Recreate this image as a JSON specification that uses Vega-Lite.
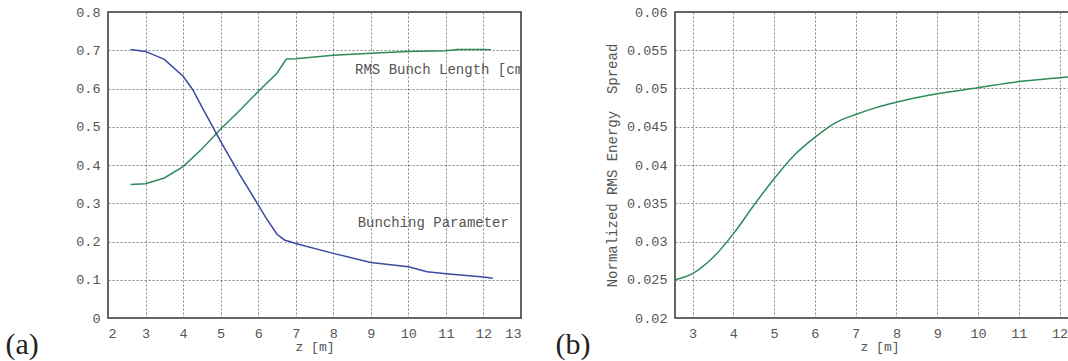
{
  "$schema": "https://vega.github.io/schema/vega-lite/v6.json",
  "background": "white",
  "padding": {"left": 4, "top": 4, "right": 0, "bottom": 0},
  "spacing": 32,
  "config": {
    "view": {"stroke": "#333", "strokeWidth": 1.5},
    "axis": {
      "labelFont": "Liberation Mono", "labelFontSize": 13.5, "labelColor": "#555",
      "titleFont": "Liberation Mono", "titleFontSize": 13, "titleColor": "#555", "titleFontWeight": "normal",
      "domain": false, "ticks": false, "labelPadding": 8, "titlePadding": 1, "labelOverlap": false,
      "gridColor": "#666", "gridDash": [2, 2], "gridWidth": 0.8, "gridOpacity": 1
    }
  },
  "datasets": {
    "bunch": [
      {"series": "RMS Bunch Length", "z": 2.6, "value": 0.349},
      {"series": "RMS Bunch Length", "z": 3.0, "value": 0.351},
      {"series": "RMS Bunch Length", "z": 3.5, "value": 0.366},
      {"series": "RMS Bunch Length", "z": 4.0, "value": 0.396},
      {"series": "RMS Bunch Length", "z": 4.5, "value": 0.442},
      {"series": "RMS Bunch Length", "z": 5.0, "value": 0.494},
      {"series": "RMS Bunch Length", "z": 5.5, "value": 0.542},
      {"series": "RMS Bunch Length", "z": 6.0, "value": 0.592},
      {"series": "RMS Bunch Length", "z": 6.5, "value": 0.64},
      {"series": "RMS Bunch Length", "z": 6.75, "value": 0.677},
      {"series": "RMS Bunch Length", "z": 7.0, "value": 0.678},
      {"series": "RMS Bunch Length", "z": 8.0, "value": 0.687},
      {"series": "RMS Bunch Length", "z": 9.0, "value": 0.692},
      {"series": "RMS Bunch Length", "z": 10.0, "value": 0.697},
      {"series": "RMS Bunch Length", "z": 11.0, "value": 0.699},
      {"series": "RMS Bunch Length", "z": 11.3, "value": 0.702},
      {"series": "RMS Bunch Length", "z": 12.0, "value": 0.702},
      {"series": "RMS Bunch Length", "z": 12.2, "value": 0.701},
      {"series": "Bunching Parameter", "z": 2.6, "value": 0.702},
      {"series": "Bunching Parameter", "z": 3.0, "value": 0.697},
      {"series": "Bunching Parameter", "z": 3.5, "value": 0.676},
      {"series": "Bunching Parameter", "z": 4.0, "value": 0.632},
      {"series": "Bunching Parameter", "z": 4.25, "value": 0.598},
      {"series": "Bunching Parameter", "z": 4.5, "value": 0.552},
      {"series": "Bunching Parameter", "z": 5.0, "value": 0.462},
      {"series": "Bunching Parameter", "z": 5.5, "value": 0.376},
      {"series": "Bunching Parameter", "z": 6.0, "value": 0.296},
      {"series": "Bunching Parameter", "z": 6.2, "value": 0.263},
      {"series": "Bunching Parameter", "z": 6.5, "value": 0.219},
      {"series": "Bunching Parameter", "z": 6.7, "value": 0.204},
      {"series": "Bunching Parameter", "z": 7.0, "value": 0.195},
      {"series": "Bunching Parameter", "z": 8.0, "value": 0.169},
      {"series": "Bunching Parameter", "z": 9.0, "value": 0.145},
      {"series": "Bunching Parameter", "z": 10.0, "value": 0.134},
      {"series": "Bunching Parameter", "z": 10.5, "value": 0.121},
      {"series": "Bunching Parameter", "z": 11.0, "value": 0.116},
      {"series": "Bunching Parameter", "z": 12.0, "value": 0.107},
      {"series": "Bunching Parameter", "z": 12.25, "value": 0.104}
    ],
    "labels": [
      {"z": 8.58, "value": 0.648, "label": "RMS Bunch Length [cm]"},
      {"z": 8.65, "value": 0.248, "label": "Bunching Parameter"}
    ],
    "energy": [
      {"z": 2.57, "value": 0.025},
      {"z": 3.0, "value": 0.0258},
      {"z": 3.5, "value": 0.0279},
      {"z": 4.0, "value": 0.031},
      {"z": 4.5, "value": 0.0347},
      {"z": 5.0, "value": 0.0382},
      {"z": 5.5, "value": 0.0413},
      {"z": 6.0, "value": 0.0436},
      {"z": 6.5, "value": 0.0455},
      {"z": 7.0, "value": 0.0466},
      {"z": 7.5, "value": 0.0475},
      {"z": 8.0, "value": 0.0482},
      {"z": 9.0, "value": 0.0493},
      {"z": 10.0, "value": 0.0501},
      {"z": 11.0, "value": 0.0509},
      {"z": 12.0, "value": 0.0514},
      {"z": 12.6, "value": 0.0517}
    ]
  },
  "hconcat": [
    {
      "width": 413,
      "height": 306,
      "title": {"text": "(a)", "orient": "left", "anchor": "start", "angle": 0, "baseline": "alphabetic", "font": "Liberation Serif", "fontSize": 30, "fontWeight": "normal", "color": "#222", "offset": 37},
      "encoding": {
        "x": {"field": "z", "type": "quantitative", "scale": {"domain": [2, 13], "nice": false, "zero": false},
              "axis": {"values": [2, 3, 4, 5, 6, 7, 8, 9, 10, 11, 12, 13], "title": "z  [m]"}},
        "y": {"field": "value", "type": "quantitative", "scale": {"domain": [0, 0.8], "nice": false},
              "axis": {"values": [0, 0.1, 0.2, 0.3, 0.4, 0.5, 0.6, 0.7, 0.8], "format": ".1~f", "title": null}}
      },
      "layer": [
        {
          "data": {"name": "bunch"},
          "mark": {"type": "line", "strokeWidth": 1.5, "clip": true},
          "encoding": {
            "color": {"field": "series", "type": "nominal",
                      "scale": {"domain": ["RMS Bunch Length", "Bunching Parameter"], "range": ["#2e8b5a", "#3b4aa0"]},
                      "legend": null}
          }
        },
        {
          "data": {"name": "labels"},
          "mark": {"type": "text", "align": "left", "baseline": "middle", "font": "Liberation Mono", "fontSize": 14, "color": "#555", "clip": true},
          "encoding": {
            "text": {"field": "label"}
          }
        }
      ]
    },
    {
      "width": 409,
      "height": 306,
      "title": {"text": "(b)", "orient": "left", "anchor": "start", "angle": 0, "baseline": "alphabetic", "font": "Liberation Serif", "fontSize": 30, "fontWeight": "normal", "color": "#222", "offset": 15},
      "data": {"name": "energy"},
      "mark": {"type": "line", "strokeWidth": 1.5, "color": "#2e8b5a", "clip": true, "interpolate": "monotone"},
      "encoding": {
        "x": {"field": "z", "type": "quantitative", "scale": {"domain": [2.57, 12.6], "nice": false, "zero": false},
              "axis": {"values": [3, 4, 5, 6, 7, 8, 9, 10, 11, 12], "title": "z  [m]"}},
        "y": {"field": "value", "type": "quantitative", "scale": {"domain": [0.02, 0.06], "nice": false, "zero": false},
              "axis": {"values": [0.02, 0.025, 0.03, 0.035, 0.04, 0.045, 0.05, 0.055, 0.06], "format": ".3~f", "title": "Normalized RMS Energy\u00a0 Spread", "titleFontSize": 14, "titlePadding": 7}}
      }
    }
  ]
}
